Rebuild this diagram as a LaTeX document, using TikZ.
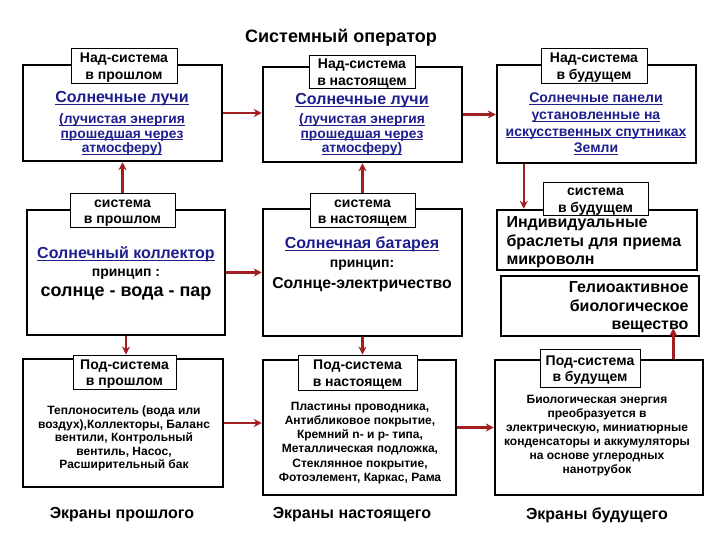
\documentclass[tikz,border=0pt]{standalone}
\usepackage{fontspec}
\setmainfont{Liberation Sans}
\usetikzlibrary{arrows.meta}
\newcommand\fsz[2]{\fontsize{#1}{#2}\selectfont}
\newcommand\lnk[1]{\setbox0\hbox{#1}\rlap{\vrule width\wd0 height -1.3pt depth 2.3pt}\box0}

\begin{document}
\begin{tikzpicture}[x=1pt,y=-1pt,
  frame/.style={draw,line width=2.5pt,inner sep=0pt},
  tag/.style={draw,fill=white,line width=0.9pt,inner sep=0pt,align=center,text height=27.5pt,text depth=0pt,font=\bfseries\fsz{14}{16.5}},
  link/.style={text=linkblue,align=center},
  plain/.style={align=center},
  arr/.style={arrowred,line width=2.5pt,-{Stealth[length=8pt,width=8pt]}}]
  \definecolor{linkblue}{HTML}{1E1E8C}
  \definecolor{arrowred}{HTML}{A31F1F}
  \useasboundingbox (0,0) rectangle (720,540);

  \node[font=\bfseries\fsz{18}{20}] (title) at (341,38) {Системный оператор};

  % Над-система
  \node[frame,minimum width=199pt,minimum height=96pt] (suppast) at (122.5,113) {};
  \node[frame,minimum width=199pt,minimum height=95pt] (supnow) at (362.5,114.5) {};
  \node[frame,minimum width=199pt,minimum height=98pt] (supfut) at (596.5,114) {};
  \node[tag,minimum width=106pt,minimum height=35pt] (suppasttag) at (124,65.5) {Над-система\\в прошлом};
  \node[tag,minimum width=106pt,minimum height=33pt] (supnowtag) at (362,71.5) {Над-система\\в настоящем};
  \node[tag,minimum width=106pt,minimum height=35pt] (supfuttag) at (594,65.5) {Над-система\\в будущем};
  \node[link,font=\bfseries\fsz{16}{18}] (suppasttxt) at (122,99) {\lnk{Солнечные лучи}};
  \node[link,font=\bfseries\fsz{13.8}{14.5}] (suppastsub) at (122,134.5) {\lnk{(лучистая энергия}\\\lnk{прошедшая через}\\\lnk{атмосферу)}};
  \node[link,font=\bfseries\fsz{16}{18}] (supnowtxt) at (362,100.5) {\lnk{Солнечные лучи}};
  \node[link,font=\bfseries\fsz{13.8}{14.5}] (supnowsub) at (362,134.5) {\lnk{(лучистая энергия}\\\lnk{прошедшая через}\\\lnk{атмосферу)}};
  \node[link,font=\bfseries\fsz{14}{16.7}] (supfuttxt) at (596,124) {\lnk{Солнечные панели}\\\lnk{установленные на}\\\lnk{искусственных спутниках}\\\lnk{Земли}};

  % система
  \node[frame,minimum width=198pt,minimum height=125pt] (syspast) at (126,272.5) {};
  \node[frame,minimum width=199pt,minimum height=127pt] (sysnow) at (362.5,272.5) {};
  \node[frame,minimum width=200pt,minimum height=60pt] (sysfut) at (597,240) {};
  \node[frame,minimum width=198pt,minimum height=60pt] (helio) at (600,306) {};
  \node[tag,minimum width=105pt,minimum height=34pt] (syspasttag) at (122.5,210) {система\\в прошлом};
  \node[tag,minimum width=105pt,minimum height=34pt] (sysnowtag) at (362.5,210) {система\\в настоящем};
  \node[tag,minimum width=105pt,minimum height=33pt] (sysfuttag) at (595.5,198.5) {система\\в будущем};
  \node[link,font=\bfseries\fsz{16}{18}] (syspasttxt) at (126,254) {\lnk{Солнечный коллектор}};
  \node[plain,font=\bfseries\fsz{14}{15}] (syspastrule) at (126,274) {принцип :};
  \node[plain,font=\bfseries\fsz{18}{20}] (syspastflow) at (126,294) {солнце - вода - пар};
  \node[link,font=\bfseries\fsz{16}{18}] (sysnowtxt) at (362,244) {\lnk{Солнечная батарея}};
  \node[plain,font=\bfseries\fsz{14}{15}] (sysnowrule) at (362,265) {принцип:};
  \node[plain,font=\bfseries\fsz{15.8}{17}] (sysnowflow) at (362,285) {Солнце-электричество};
  \node[anchor=west,align=left,font=\bfseries\fsz{16}{18.5}] (sysfuttxt) at (503,242.5) {Индивидуальные\\браслеты для приема\\микроволн};
  \node[anchor=east,align=right,font=\bfseries\fsz{16}{18.5}] (heliotxt) at (692,307.5) {Гелиоактивное\\биологическое\\вещество};

  % Под-система
  \node[frame,minimum width=200pt,minimum height=128pt] (subpast) at (123,423) {};
  \node[frame,minimum width=193pt,minimum height=135pt] (subnow) at (359.5,427.5) {};
  \node[frame,minimum width=208pt,minimum height=135pt] (subfut) at (599,427.5) {};
  \node[tag,minimum width=103pt,minimum height=34pt] (subpasttag) at (124.5,372) {Под-система\\в прошлом};
  \node[tag,minimum width=119pt,minimum height=35pt] (subnowtag) at (357.5,372.5) {Под-система\\в настоящем};
  \node[tag,minimum width=100pt,minimum height=38pt] (subfuttag) at (590,368) {Под-система\\в будущем};
  \node[plain,font=\bfseries\fsz{12}{13.5}] (subpasttxt) at (124,438.5) {Теплоноситель (вода или\\воздух),Коллекторы, Баланс\\вентили, Контрольный\\вентиль, Насос,\\Расширительный бак};
  \node[plain,font=\bfseries\fsz{12}{14.2}] (subnowtxt) at (360,443) {Пластины проводника,\\Антибликовое покрытие,\\Кремний n- и p- типа,\\Металлическая подложка,\\Стеклянное покрытие,\\Фотоэлемент, Каркас, Рама};
  \node[plain,font=\bfseries\fsz{12}{14}] (subfuttxt) at (597,435.5) {Биологическая энергия\\преобразуется в\\электрическую, миниатюрные\\конденсаторы и аккумуляторы\\на основе углеродных\\нанотрубок};

  \node[font=\bfseries\fsz{16}{18}] (scrpast) at (122,515) {Экраны прошлого};
  \node[font=\bfseries\fsz{16}{18}] (scrnow) at (352,515) {Экраны настоящего};
  \node[font=\bfseries\fsz{16}{18}] (scrfut) at (597,515) {Экраны будущего};

  % стрелки
  \draw[arr] (suppast.east) -- (suppast.east -| supnow.west);
  \draw[arr] (supnow.east) -- (supnow.east -| supfut.west);
  \draw[arr] (syspasttag.north) -- (syspasttag.north |- suppast.south);
  \draw[arr] (sysnowtag.north) -- (sysnowtag.north |- supnow.south);
  \draw[arr] ([xshift=28pt]supfut.south west) -- ([xshift=28pt]supfut.south west |- sysfut.north);
  \draw[arr] (syspast.east) -- (syspast.east -| sysnow.west);
  \draw[arr] (syspast.south) -- (syspast.south |- subpasttag.north);
  \draw[arr] (sysnow.south) -- (sysnow.south |- subnowtag.north);
  \draw[arr] (subpast.east) -- (subpast.east -| subnow.west);
  \draw[arr] (subnow.east) -- (subnow.east -| subfut.west);
  \draw[arr,shorten >=-9pt] ([xshift=-31pt]subfut.north east) -- ([xshift=-31pt]subfut.north east |- helio.south);
\end{tikzpicture}
\end{document}
